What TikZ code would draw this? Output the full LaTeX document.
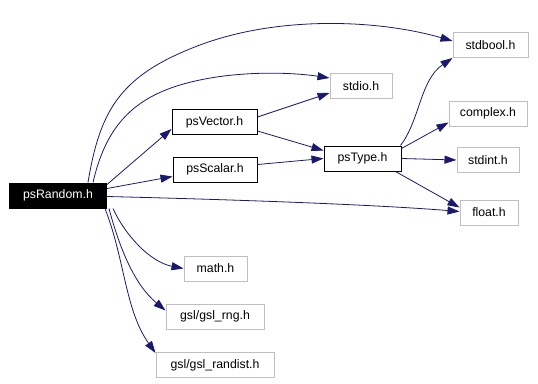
\documentclass[tikz,border=0pt]{standalone}
\usepackage{fontspec}
\setmainfont{Liberation Sans}
\usetikzlibrary{arrows.meta,calc}
\definecolor{edgeblue}{HTML}{191970}
\definecolor{boxgray}{HTML}{BFBFBF}
\begin{document}
\begin{tikzpicture}[x=1pt,y=-1pt,
  box/.style={draw=boxgray,line width=1pt,minimum height=25pt,inner sep=0pt,font=\fontsize{12.3}{14}\selectfont},
  blackbox/.style={box,draw=black},
  mainbox/.style={box,draw=black,fill=black,text=white},
  dep/.style={edgeblue,line width=0.8pt,-{Triangle[length=12pt,width=8pt]}}]
\useasboundingbox (0,0) rectangle (538,383);
\node[mainbox,minimum width=97pt] (psRandom) at (58,195.5) {psRandom.h};
\node[blackbox,minimum width=85pt] (psVector) at (214.5,122) {psVector.h};
\node[blackbox,minimum width=84pt] (psScalar) at (215,169.5) {psScalar.h};
\node[blackbox,minimum width=77pt] (psType) at (362.5,158.5) {psType.h};
\node[box,minimum width=75pt] (stdbool) at (490.5,45) {stdbool.h};
\node[box,minimum width=78pt] (complex) at (488,113.5) {complex.h};
\node[box,minimum width=62pt] (stdint) at (488,160) {stdint.h};
\node[box,minimum width=58pt] (float) at (489,212.5) {float.h};
\node[box,minimum width=62pt] (stdio) at (361,86) {stdio.h};
\node[box,minimum width=63pt] (math) at (215.5,268.5) {math.h};
\node[box,minimum width=98pt] (gslrng) at (215,316.5) {gsl/gsl\_rng.h};
\node[box,minimum width=118pt] (gslrandist) at (215,365) {gsl/gsl\_randist.h};

\draw[dep] ($(psRandom.north)+(30,0)$) .. controls (100,110) and (120,75) .. (200,45)
  .. controls (280,15) and (380,20) .. ($(stdbool.west)+(0,-4)$);
\draw[dep] ($(psRandom.north)+(35,0)$) .. controls (105,130) and (130,100) .. (180,85)
  .. controls (230,70) and (290,72) .. ($(stdio.west)+(0,-8)$);
\draw[dep] ($(psRandom.east)+(0,-11)$) -- ($(psVector.west)+(0,7)$);
\draw[dep] ($(psRandom.east)+(0,-7)$) -- ($(psScalar.west)+(0,7)$);
\draw[dep] ($(psRandom.east)+(0,1)$) .. controls (250,200) and (380,205) .. ($(float.west)+(0,-1)$);
\draw[dep] ($(psRandom.south east)+(6,0)$) .. controls (125,235) and (150,262) .. (math.west);
\draw[dep] ($(psRandom.south east)+(2,0)$) .. controls (120,250) and (135,285) .. ($(gslrng.west)+(0,-6)$);
\draw[dep] ($(psRandom.south east)+(-2,0)$) .. controls (125,260) and (125,310) .. ($(gslrandist.west)+(0,-12)$);
\draw[dep] ($(psVector.east)+(0,-5)$) -- ($(stdio.west)+(0,7)$);
\draw[dep] ($(psVector.east)+(0,9)$) -- ($(psType.west)+(0,-8)$);
\draw[dep] ($(psScalar.east)+(0,-5)$) -- (psType.west);
\draw[dep] ($(psType.north east)+(-1,0)$) .. controls (420,120) and (420,80) .. (stdbool.south west);
\draw[dep] ($(psType.east)+(0,-10)$) -- ($(complex.west)+(0,9)$);
\draw[dep] (psType.east) -- (stdint.west);
\draw[dep] ($(psType.south east)+(-6,0)$) -- ($(float.west)+(0,-5)$);
\end{tikzpicture}
\end{document}
